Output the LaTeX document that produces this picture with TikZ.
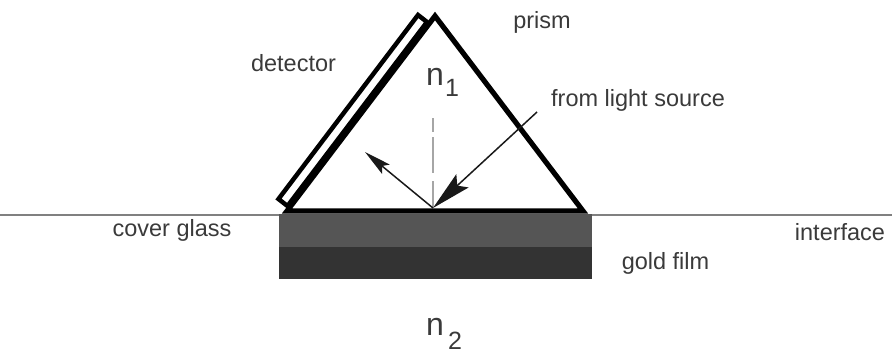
\documentclass[tikz,border=0pt]{standalone}
\usepackage{fontspec}
\setmainfont{Liberation Sans}
\usetikzlibrary{arrows.meta, positioning, calc}
\definecolor{glassgray}{HTML}{555555}
\definecolor{goldgray}{HTML}{333333}
\definecolor{textgray}{HTML}{3A3A3A}
\begin{document}
\begin{tikzpicture}[x=1pt, y=-1pt]
        \tikzset{lbl/.style={inner sep=0pt, text=textgray, font=\fontsize{23.5}{26}\selectfont}}
        \tikzset{idx/.style={inner sep=0pt, text=textgray, font=\fontsize{32}{36}\selectfont}}
        \tikzset{sub/.style={inner sep=0pt, text=textgray, font=\fontsize{25}{28}\selectfont}}
        \tikzset{layer/.style={minimum width=313pt, inner sep=0pt, outer sep=0pt, anchor=north west}}
        \tikzset{wall/.style={draw=black, line width=5.2pt, line join=miter}}
        \tikzset{ray/.style={line width=1.5pt, black!90}}
        \useasboundingbox (0,0) rectangle (892,354);

        \coordinate (if_l) at (0,215);
        \coordinate (if_r) at (892,215);
        \coordinate (apex) at (435,16);
        \coordinate (base_l) at (287,211);
        \coordinate (base_r) at (583,211);
        \coordinate (hit) at (433,208);
        \coordinate (src) at (537,112);
        \coordinate (refl) at (365,152);
        \coordinate (norm) at (433,118);

        \draw[gray, line width=1.5pt] (if_l) -- (if_r);
        \node[layer, fill=glassgray, minimum height=33pt] (glass) at (279,214) {};
        \node[layer, fill=goldgray, minimum height=32pt] (gold) at (279,247) {};

        \draw[wall] (apex) -- (base_r) -- (base_l) -- cycle;
        \draw[wall, line width=4.5pt] (278.5,199) -- (418,15) -- (427,22) -- (287.5,206) -- cycle;

        \draw[black!35, line width=1.2pt, dash pattern=on 14pt off 5pt on 36pt off 8pt on 26pt off 5pt] (norm) -- (hit);
        \draw[ray, -{Stealth[length=40pt, width=18pt, inset=7pt]}] (src) -- (hit);
        \draw[ray, -{Stealth[length=27pt, width=12pt, inset=5pt]}] (hit) -- (refl);

        \node[lbl] (prism) at (542,22) {prism};
        \node[lbl] (detector) at (293.5,63) {detector};
        \node[lbl] (source) at (638,100) {from light source};
        \node[lbl] (cover) at (172,230) {cover glass};
        \node[lbl] (iface) at (840,232) {interface};
        \node[lbl] (film) at (665.5,263) {gold film};
        \node[idx] (n_one) at (435,77) {n};
        \node[sub] (one) at (452,88) {1};
        \node[idx] (n_two) at (435,327) {n};
        \node[sub] (two) at (455,341) {2};
    \end{tikzpicture}
\end{document}
